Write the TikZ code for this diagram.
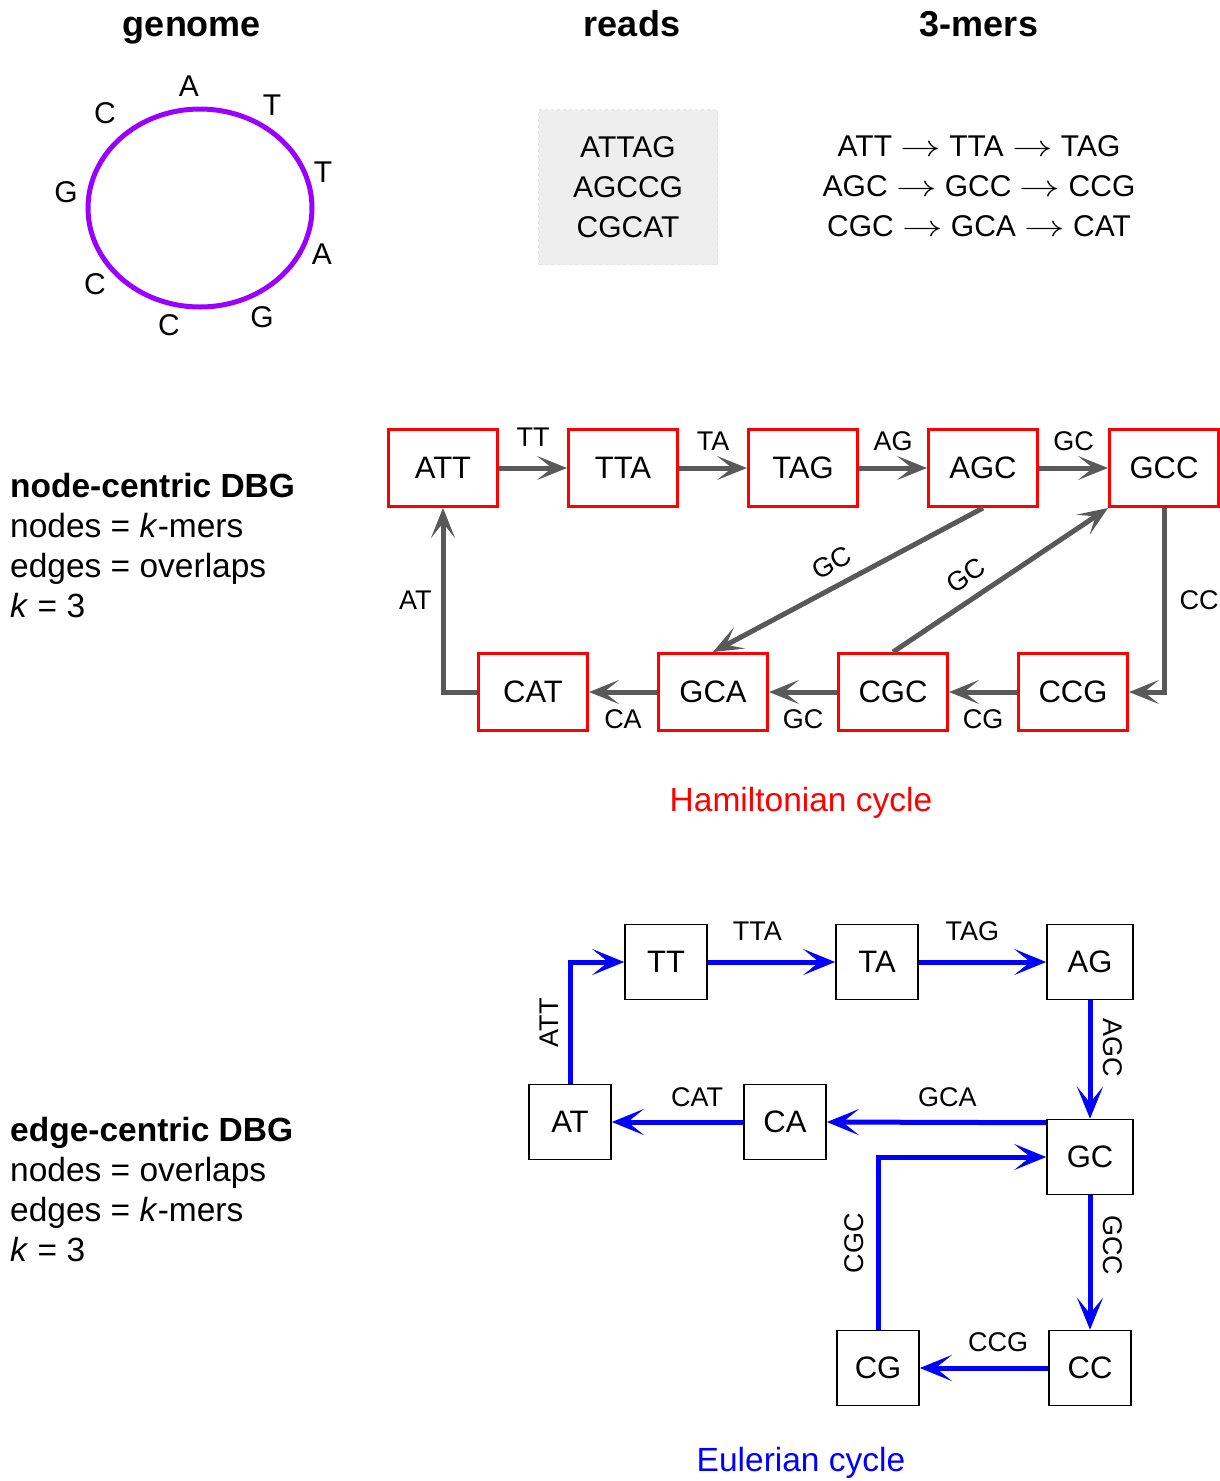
\RequirePackage{fix-cm}
\documentclass[tikz,border=0pt]{standalone}
\usepackage{graphicx}
\usepackage{fontspec}
\setmainfont{Liberation Sans}
\usetikzlibrary{arrows.meta,positioning,calc}
\definecolor{edgegray}{HTML}{595959}
\definecolor{genomepurple}{HTML}{9900FF}
\definecolor{readsgray}{HTML}{EEEEEE}
\newcommand{\kto}{\scalebox{1.35}[1]{$\rightarrow$}}
\tikzset{
  title text/.style={font=\fontsize{36}{43}\selectfont\bfseries,anchor=base},
  side text/.style={font=\fontsize{33.5}{40}\selectfont,align=left,anchor=west,inner sep=0pt},
  base text/.style={font=\fontsize{30}{40}\selectfont,align=center},
  kmer node/.style={draw=red,line width=3pt,minimum width=109pt,minimum height=77pt,inner sep=0pt,font=\fontsize{31}{36}\selectfont},
  overlap node/.style={draw=black,line width=1.6pt,minimum width=82pt,minimum height=75pt,inner sep=0pt,font=\fontsize{31}{36}\selectfont},
  gray edge/.style={edgegray,line width=5pt,-{Stealth[length=30pt,width=24pt,inset=15pt]}},
  blue edge/.style={blue,line width=5pt,-{Stealth[length=32pt,width=26pt,inset=16pt]}},
  edge label/.style={black,font=\fontsize{27}{30}\selectfont,inner sep=3pt},
  up label/.style={edge label,rotate=90,anchor=south,outer sep=9pt},
  down label/.style={edge label,rotate=-90,anchor=south,outer sep=10pt},
  cycle text/.style={font=\fontsize{33.5}{38}\selectfont},
}

\begin{document}
\begin{tikzpicture}[x=1pt,y=-1pt]
\useasboundingbox (0,0) rectangle (1220,1481);
% top row
\node[title text] (genome title) at (192,36) {genome};
\node[title text] (reads title) at (632,36) {reads};
\node[title text] (kmers title) at (979,36) {3-mers};
\draw[genomepurple,line width=5pt] (200,208) ellipse [x radius=112,y radius=99];
\foreach \b/\x/\y [count=\i] in {A/189/86,T/272/105,T/323/172,A/322/254,G/262/317,C/169/325,C/95/284,G/66/192,C/105/113}
  \node[base text] (base\i) at (\x,\y) {\b};
\node[base text,fill=readsgray,draw=black!10,dashed,minimum width=179pt,minimum height=155pt] (reads) at (628,187) {ATTAG\\AGCCG\\CGCAT};
\node[base text] (kmers) at (979,186) {ATT \kto{} TTA \kto{} TAG\\AGC \kto{} GCC \kto{} CCG\\CGC \kto{} GCA \kto{} CAT};

% node-centric
\node[side text] (node centric) at (10,546) {\textbf{node-centric DBG}\\nodes = \textit{k}-mers\\edges = overlaps\\\textit{k} = 3};
\node[kmer node] (ATT) at (443,468) {ATT};
\node[kmer node] (TTA) at (623,468) {TTA};
\node[kmer node] (TAG) at (803,468) {TAG};
\node[kmer node] (AGC) at (983,468) {AGC};
\node[kmer node] (GCC) at (1164,468) {GCC};
\node[kmer node] (CAT) at (533,692) {CAT};
\node[kmer node] (GCA) at (713,692) {GCA};
\node[kmer node] (CGC) at (893,692) {CGC};
\node[kmer node] (CCG) at (1073,692) {CCG};
\draw[gray edge] (ATT) -- node[edge label,above=16pt] {TT} (TTA);
\draw[gray edge] (TTA) -- node[edge label,above=12pt] {TA} (TAG);
\draw[gray edge] (TAG) -- node[edge label,above=12pt] {AG} (AGC);
\draw[gray edge] (AGC) -- node[edge label,above=12pt] {GC} (GCC);
\draw[gray edge] (GCC.south) |- node[edge label,right=10pt,pos=0.25] {CC} (CCG.east);
\draw[gray edge] (CCG) -- node[edge label,below=12pt] {CG} (CGC);
\draw[gray edge] (CGC) -- node[edge label,below=12pt] {GC} (GCA);
\draw[gray edge] (GCA) -- node[edge label,below=12pt] {CA} (CAT);
\draw[gray edge] (CAT.west) -| node[edge label,left=6pt,pos=0.75] {AT} (ATT.south);
\draw[gray edge] (AGC.south) -- node[edge label,sloped,above=8pt,pos=0.52] {GC} (GCA.north);
\draw[gray edge] (CGC.north) -- node[edge label,sloped,above=8pt,pos=0.4] {GC} (GCC.south west);
\node[cycle text,red] (hamiltonian) at (801,803) {Hamiltonian cycle};

% edge-centric
\node[side text] (edge centric) at (10,1190) {\textbf{edge-centric DBG}\\nodes = overlaps\\edges = \textit{k}-mers\\\textit{k} = 3};
\node[overlap node] (TT) at (666,962) {TT};
\node[overlap node] (TA) at (877,962) {TA};
\node[overlap node,minimum width=86pt] (AG) at (1090,962) {AG};
\node[overlap node] (AT) at (570,1122) {AT};
\node[overlap node] (CA) at (785,1122) {CA};
\node[overlap node,minimum width=86pt] (GC) at (1090,1157) {GC};
\node[overlap node] (CG) at (878,1368) {CG};
\node[overlap node] (CC) at (1090,1368) {CC};
\coordinate (GC out) at ([yshift=-4pt]GC.north west);
\draw[blue edge] (AT.north) |- node[up label,pos=0.25] {ATT} (TT.west);
\draw[blue edge] (TT) -- node[edge label,above=16pt,pos=0.39] {TTA} (TA);
\draw[blue edge] (TA) -- node[edge label,above=16pt,pos=0.42] {TAG} (AG);
\draw[blue edge] (AG) -- node[down label,pos=0.4] {AGC} (GC);
\draw[blue edge] (GC out) -- node[edge label,above=10pt,pos=0.45] {GCA} (CA.east);
\draw[blue edge] (CA) -- node[edge label,above=10pt,pos=0.35] {CAT} (AT);
\draw[blue edge] (GC) -- node[down label,pos=0.37] {GCC} (CC);
\draw[blue edge] (CC) -- node[edge label,above=11pt,pos=0.39] {CCG} (CG);
\draw[blue edge] (CG.north) |- node[up label,pos=0.25,outer sep=11pt] {CGC} (GC.west);
\node[cycle text,blue] (eulerian) at (801,1463) {Eulerian cycle};
\end{tikzpicture}
\end{document}
